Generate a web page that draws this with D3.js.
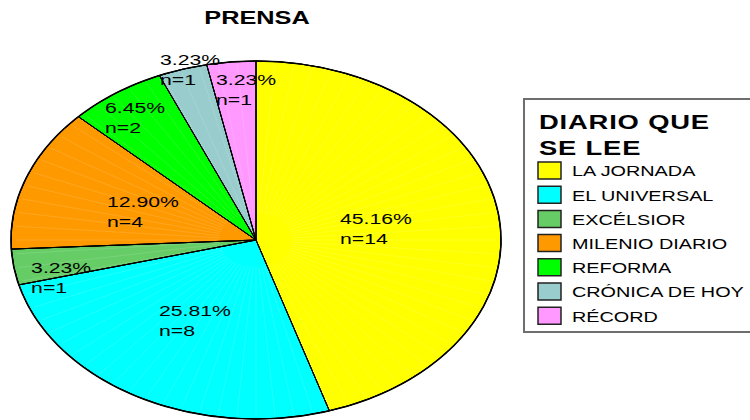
<!DOCTYPE html>
<html>
<head>
<meta charset="utf-8">
<script src="https://cdn.jsdelivr.net/npm/d3@7"></script>
<style>
  body { margin: 0; background: #fff; }
  svg { display: block; font-family: "Liberation Sans", Arial, sans-serif; }
</style>
</head>
<body>
<svg class="svg-canvas" width="750" height="420"></svg>
<script>
// data
var diarios = ["LA JORNADA", "EL UNIVERSAL", "EXCÉLSIOR", "MILENIO DIARIO", "REFORMA", "CRÓNICA DE HOY", "RÉCORD"];
var lectores = [14, 8, 1, 4, 2, 1, 1];
var colores = ["#ffff00", "#00ffff", "#66cc66", "#ff9900", "#00ff00", "#99cccc", "#ff99ff"];
var titulo = "PRENSA";
var tituloLeyenda = ["DIARIO QUE", "SE LEE"];

// layout: the whole chart is stretched sideways
var sx = 245 / 179;
var radius = 179;
var cx = 256 / sx, cy = 240;
// where each label starts, as fraction of the radius from the centre
var labelSpots = [[0.343, -0.089], [-0.396, 0.425], [-0.918, 0.184], [-0.608, -0.184],
                  [-0.616, -0.709], [-0.392, -0.978], [-0.163, -0.866]];

var svg = d3.select(".svg-canvas");
var g = svg.append("g").attr("transform", "scale(" + sx + ",1)");

var total = d3.sum(lectores);
var slices = d3.pie().sort(null).value(function(d) { return d; })(lectores);
var arc = d3.arc().innerRadius(0).outerRadius(radius);

var pie = g.append("g").attr("transform", "translate(" + cx + "," + cy + ")");

pie.selectAll("path.slice")
  .data(slices).enter()
  .append("path")
  .attr("class", "slice")
  .attr("d", arc)
  .attr("fill", function(d, i) { return colores[i]; })
  .attr("stroke", "#000")
  .attr("stroke-width", 1)
  .attr("stroke-linejoin", "round")
  .attr("vector-effect", "non-scaling-stroke");

// faint streaks from the gradient fill
var streaks = d3.range(0, Math.PI * 2, Math.PI / 40);
pie.selectAll("line.streak")
  .data(streaks).enter()
  .append("line")
  .attr("class", "streak")
  .attr("x1", function(d) { return Math.sin(d) * radius * 0.15; })
  .attr("y1", function(d) { return -Math.cos(d) * radius * 0.15; })
  .attr("x2", function(d) { return Math.sin(d) * radius * 0.98; })
  .attr("y2", function(d) { return -Math.cos(d) * radius * 0.98; })
  .attr("stroke", "#fff")
  .attr("stroke-opacity", 0.22)
  .attr("stroke-width", 0.6)
  .attr("vector-effect", "non-scaling-stroke");

pie.selectAll("path.edge")
  .data(slices).enter()
  .append("path")
  .attr("class", "edge")
  .attr("d", arc)
  .attr("fill", "none")
  .attr("stroke", "#000")
  .attr("stroke-width", 1)
  .attr("vector-effect", "non-scaling-stroke");

pie.append("circle")
  .attr("r", radius)
  .attr("fill", "none")
  .attr("stroke", "#000")
  .attr("stroke-width", 1.6)
  .attr("vector-effect", "non-scaling-stroke");

var labels = pie.selectAll("text.lbl")
  .data(slices).enter()
  .append("text")
  .attr("class", "lbl")
  .attr("font-size", 15.5)
  .attr("fill", "#000")
  .attr("transform", function(d, i) {
    return "translate(" + labelSpots[i][0] * radius + "," + labelSpots[i][1] * radius + ")";
  });
labels.append("tspan")
  .attr("x", 0).attr("y", 0)
  .text(function(d) { return (d.value / total * 100).toFixed(2) + "%"; });
labels.append("tspan")
  .attr("x", 0).attr("y", 20)
  .text(function(d) { return "n=" + d.value; });

// title
g.append("text")
  .attr("x", 257 / sx)
  .attr("y", 24)
  .attr("text-anchor", "middle")
  .attr("font-size", 18.5)
  .attr("font-weight", "bold")
  .text(titulo);

// legend
var legend = g.append("g").attr("transform", "translate(" + 524 / sx + ",99)");
legend.append("rect")
  .attr("x", 0).attr("y", 0)
  .attr("width", 240 / sx).attr("height", 233)
  .attr("fill", "#fff")
  .attr("stroke", "#6e6e6e")
  .attr("stroke-width", 2)
  .attr("vector-effect", "non-scaling-stroke");

legend.selectAll("text.head")
  .data(tituloLeyenda).enter()
  .append("text")
  .attr("class", "head")
  .attr("x", 15 / sx)
  .attr("y", function(d, i) { return 30 + i * 26; })
  .attr("font-size", 20)
  .attr("font-weight", "bold")
  .attr("letter-spacing", 0.6)
  .text(function(d) { return d; });

var items = legend.selectAll("g.item")
  .data(diarios).enter()
  .append("g")
  .attr("class", "item")
  .attr("transform", function(d, i) { return "translate(" + 14 / sx + "," + (63 + i * 24.2) + ")"; });
items.append("rect")
  .attr("width", 23 / sx).attr("height", 17)
  .attr("fill", function(d, i) { return colores[i]; })
  .attr("stroke", "#222")
  .attr("stroke-width", 1.5)
  .attr("vector-effect", "non-scaling-stroke");
items.append("text")
  .attr("x", 34 / sx)
  .attr("y", 14.5)
  .attr("font-size", 14.5)
  .text(function(d) { return d; });
</script>
</body>
</html>
